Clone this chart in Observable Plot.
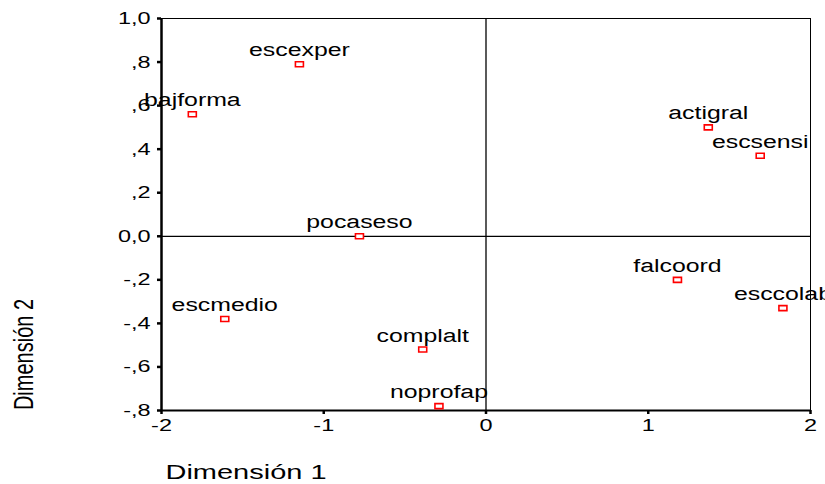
<!DOCTYPE html>
<html>
<head>
<meta charset="utf-8">
<script src="https://cdn.jsdelivr.net/npm/d3@7"></script>
<script src="https://cdn.jsdelivr.net/npm/@observablehq/plot@0.6"></script>
<style>
  html, body { margin: 0; padding: 0; background: white; }
  #chart { width: 825px; height: 484px; }
</style>
</head>
<body>
<div id="chart"></div>
<script>
// Data
const labels = ["escexper", "bajforma", "pocaseso", "escmedio", "complalt", "noprofap", "actigral", "escsensi", "falcoord", "esccolab"];
const dim1 = [-1.15, -1.81, -0.78, -1.61, -0.39, -0.29, 1.37, 1.69, 1.18, 1.83];
const dim2 = [0.79, 0.56, 0.00, -0.38, -0.52, -0.78, 0.50, 0.37, -0.20, -0.33];

const xTicks = [-2, -1, 0, 1, 2];
const xTickLabels = ["-2", "-1", "0", "1", "2"];
const yTicks = [1.0, 0.8, 0.6, 0.4, 0.2, 0.0, -0.2, -0.4, -0.6, -0.8];
const yTickLabels = ["1,0", ",8", ",6", ",4", ",2", "0,0", "-,2", "-,4", "-,6", "-,8"];

const xDomain = [-2, 2];
const yDomain = [-0.8, 1.0];
const xTitle = "Dimensión 1";
const yTitle = "Dimensión 2";

const points = labels.map((name, i) => ({name, x: dim1[i], y: dim2[i]}));

const rectSymbol = {
  draw(context, size) {
    context.rect(-4, -2.5, 8, 5);
  }
};

const font = "'Liberation Sans', Arial, sans-serif";

const plot = Plot.plot({
  width: 825,
  height: 484,
  marginTop: 18,
  marginBottom: 74,
  marginLeft: 161,
  marginRight: 15,
  x: {domain: xDomain},
  y: {domain: yDomain},
  style: {fontFamily: font, fontSize: "17px", color: "black", background: "white"},
  marks: [
    Plot.frame({stroke: "black", strokeWidth: 1}),
    Plot.ruleX([0], {stroke: "black", strokeWidth: 1.3}),
    Plot.ruleY([0], {stroke: "black", strokeWidth: 1.3}),
    Plot.ruleX([xDomain[0]], {stroke: "black", strokeWidth: 2.5}),
    Plot.ruleY([yDomain[0]], {stroke: "black", strokeWidth: 1.8}),
    Plot.axisX({ticks: xTicks, tickFormat: d => xTickLabels[xTicks.indexOf(d)], tickSize: 4, tickPadding: 4, strokeWidth: 2.5, label: null, fontSize: 17}),
    Plot.axisY({ticks: yTicks, tickFormat: d => yTickLabels[yTicks.indexOf(d)], tickSize: 4, tickPadding: 7, strokeWidth: 2.5, label: null, fontSize: 17}),
    Plot.dot(points, {x: "x", y: "y", symbol: rectSymbol, stroke: "red", strokeWidth: 1.6, fill: "white"}),
    Plot.text(points, {x: "x", y: "y", text: "name", dy: -8, lineAnchor: "bottom", fontSize: 18, fill: "black"}),
    Plot.text([xTitle], {frameAnchor: "bottom-left", dx: 4, dy: 68, textAnchor: "start", lineAnchor: "bottom", fontSize: 21, fill: "black"}),
    Plot.text([yTitle], {frameAnchor: "left", dx: -137, dy: 140, rotate: -90, textAnchor: "middle", lineAnchor: "middle", fontSize: 28, fill: "black"})
  ]
});

document.getElementById("chart").append(plot);

// Horizontal stretch of the original rendering
const stretch = 1.38;
d3.select(plot).selectAll("text").each(function() {
  const t = this.getAttribute("transform") || "";
  const L = this.getComputedTextLength();
  if (t.includes("rotate")) {
    this.setAttribute("textLength", L / 1.4);
  } else {
    this.setAttribute("textLength", L * stretch);
  }
  this.setAttribute("lengthAdjust", "spacingAndGlyphs");
});
</script>
</body>
</html>
